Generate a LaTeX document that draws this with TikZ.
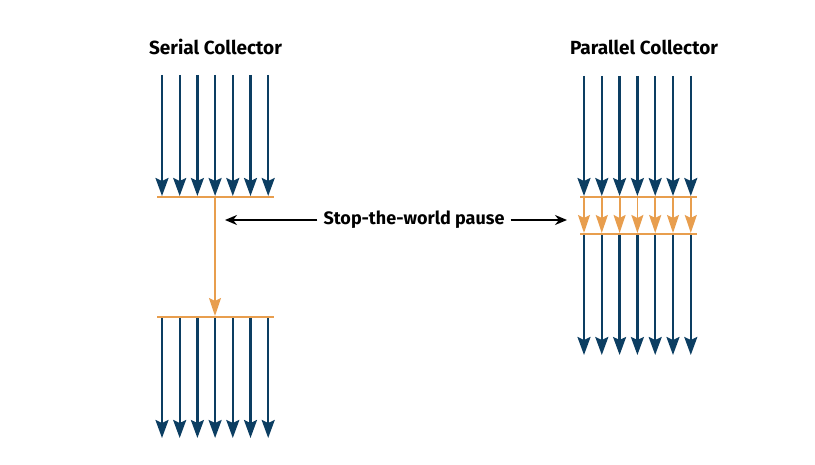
\documentclass[tikz,border=0pt]{standalone}
\usepackage{fontspec}
\setmainfont{Fira Sans}
\usetikzlibrary{
  arrows.meta,
  positioning,
  calc
}
\definecolor{ThreadBlue}{RGB}{12,62,98}
\definecolor{PauseOrange}{RGB}{232,158,78}
\tikzset{
  headlabel/.style={
    font=\fontsize{19}{22}\selectfont\bfseries,
    inner sep=0pt
  },
  pauselabel/.style={
    font=\fontsize{18}{22}\selectfont\bfseries,
    inner xsep=6pt,
    inner ysep=0pt
  },
  thread/.style={-{Stealth[length=18pt,width=13pt,inset=3pt]},line width=2.3pt,draw=ThreadBlue},
  gcthread/.style={-{Stealth[length=18pt,width=12pt,inset=3pt]},line width=1.8pt,draw=PauseOrange},
  barrier/.style={line width=1.8pt,draw=PauseOrange},
  blackarrow/.style={-{Stealth[length=12pt,width=10pt]},line width=1.8pt,draw=black}
}

\begin{document}
\begin{tikzpicture}[x=1pt,y=-1pt]
  \useasboundingbox (0,0) rectangle (815,465);

  \node[headlabel] (serial) at (215.5,47) {Serial Collector};
  \node[headlabel] (parallel) at (644,47) {Parallel Collector};

  % serial collector
  \coordinate (sbarAw) at (157,197);
  \coordinate (sbarAe) at (274,197);
  \coordinate (sbarBw) at (157,317);
  \coordinate (sbarBe) at (274,317);
  \coordinate (sgcTop) at (215,197);
  \coordinate (sgcEnd) at (215,316);
  \foreach \i in {0,...,6} {
    \coordinate (stop\i) at ({162+17.7*\i},75);
    \coordinate (sstop\i) at ({162+17.7*\i},196);
    \coordinate (sgo\i) at ({162+17.7*\i},317);
    \coordinate (send\i) at ({162+17.7*\i},438);
    \draw[thread] (stop\i) -- (sstop\i);
    \draw[thread] (sgo\i) -- (send\i);
  }
  \draw[barrier] (sbarAw) -- (sbarAe);
  \draw[barrier] (sbarBw) -- (sbarBe);
  \draw[gcthread] (sgcTop) -- (sgcEnd);

  % parallel collector
  \coordinate (pbarAw) at (580,197);
  \coordinate (pbarAe) at (697,197);
  \coordinate (pbarBw) at (580,234);
  \coordinate (pbarBe) at (697,234);
  \foreach \i in {0,...,6} {
    \coordinate (ptop\i) at ({584+17.8*\i},76);
    \coordinate (pstop\i) at ({584+17.8*\i},196);
    \coordinate (pgc\i) at ({584+17.8*\i},197);
    \coordinate (pgcEnd\i) at ({584+17.8*\i},233);
    \coordinate (pgo\i) at ({584+17.8*\i},234);
    \coordinate (pend\i) at ({584+17.8*\i},355);
    \draw[thread] (ptop\i) -- (pstop\i);
    \draw[gcthread] (pgc\i) -- (pgcEnd\i);
    \draw[thread] (pgo\i) -- (pend\i);
  }
  \draw[barrier] (pbarAw) -- (pbarAe);
  \draw[barrier] (pbarBw) -- (pbarBe);

  % pause label
  \node[pauselabel] (pause) at (414,220) {Stop-the-world pause};
  \coordinate (pauseL) at (225,220);
  \coordinate (pauseR) at (567,220);
  \draw[blackarrow] (pause.west) -- (pauseL);
  \draw[blackarrow] (pause.east) -- (pauseR);
\end{tikzpicture}
\end{document}
